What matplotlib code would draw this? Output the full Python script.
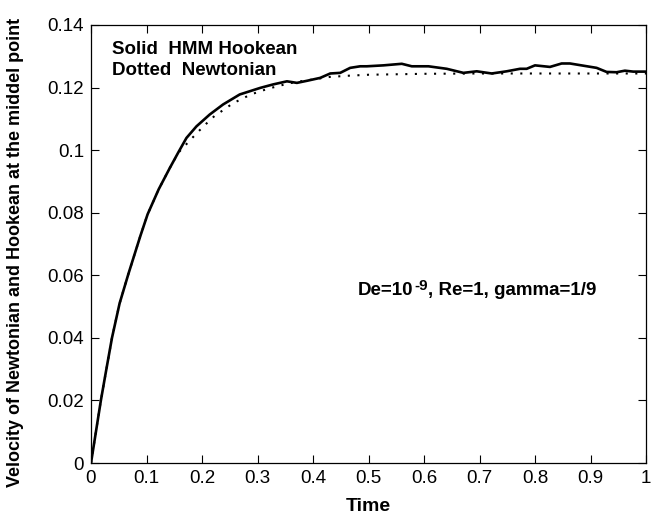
import matplotlib
matplotlib.use("Agg")
import matplotlib.pyplot as plt

# HMM Hookean (solid)
t_hook = [0, 0.0178, 0.0266, 0.0378, 0.0515, 0.0675, 0.0888, 0.102, 0.122, 0.142,
          0.158, 0.172, 0.19, 0.214, 0.238, 0.268, 0.305, 0.328, 0.353, 0.371,
          0.39, 0.413, 0.431, 0.449, 0.467, 0.485, 0.497, 0.527, 0.56, 0.578,
          0.608, 0.641, 0.671, 0.695, 0.722, 0.749, 0.773, 0.785, 0.80, 0.827,
          0.848, 0.863, 0.887, 0.911, 0.929, 0.947, 0.962, 0.977, 0.994, 1.0]
v_hook = [0, 0.02, 0.0289, 0.04, 0.051, 0.0605, 0.0725, 0.0795, 0.0875, 0.0943,
          0.0995, 0.1039, 0.1076, 0.1114, 0.1146, 0.1178, 0.1199, 0.121, 0.122, 0.1215,
          0.1222, 0.1231, 0.1245, 0.1247, 0.1263, 0.1268, 0.1268, 0.1271, 0.1276, 0.1268,
          0.1268, 0.126, 0.1247, 0.1252, 0.1245, 0.1252, 0.126, 0.126, 0.1271, 0.1266,
          0.1277, 0.1277, 0.127, 0.1263, 0.125, 0.1249, 0.1254, 0.1251, 0.1251, 0.1251]

# Newtonian (dotted)
t_newt = [0, 0.0178, 0.0378, 0.0515, 0.0675, 0.0888, 0.102, 0.122, 0.142, 0.158,
          0.175, 0.192, 0.208, 0.223, 0.24, 0.255, 0.272, 0.288, 0.305, 0.32,
          0.336, 0.353, 0.37, 0.40, 0.43, 0.465, 0.5, 0.6, 0.7, 0.8, 0.9, 1.0]
v_newt = [0, 0.02, 0.04, 0.051, 0.0605, 0.0725, 0.0795, 0.0875, 0.0943, 0.0993,
          0.1025, 0.1057, 0.1085, 0.111, 0.113, 0.1149, 0.1164, 0.1178, 0.1188, 0.1197,
          0.1204, 0.1212, 0.1218, 0.1226, 0.1234, 0.1238, 0.1241, 0.1244, 0.1245, 0.1245,
          0.1245, 0.1245]

x_ticks = [0, 0.1, 0.2, 0.3, 0.4, 0.5, 0.6, 0.7, 0.8, 0.9, 1]
x_labels = ["0", "0.1", "0.2", "0.3", "0.4", "0.5", "0.6", "0.7", "0.8", "0.9", "1"]
y_ticks = [0, 0.02, 0.04, 0.06, 0.08, 0.1, 0.12, 0.14]
y_labels = ["0", "0.02", "0.04", "0.06", "0.08", "0.1", "0.12", "0.14"]

plt.rcParams["font.family"] = ["Liberation Sans", "DejaVu Sans"]

fig = plt.figure(figsize=(6.62, 5.25), dpi=100)
ax = fig.add_axes([91 / 662, 1 - 463 / 525, 555 / 662, 438 / 525])

ax.plot(t_hook, v_hook, color="black", linewidth=1.9, solid_joinstyle="round")
ax.plot(t_newt, v_newt, color="black", linewidth=1.5,
        linestyle=(0, (1, 3.6)))

ax.set_xlim(0, 1)
ax.set_ylim(0, 0.14)
ax.set_xticks(x_ticks)
ax.set_xticklabels(x_labels)
ax.set_yticks(y_ticks)
ax.set_yticklabels(y_labels)
ax.tick_params(direction="in", top=True, right=True, length=6, width=0.8,
               labelsize=13.5, pad=5)
for s in ax.spines.values():
    s.set_linewidth(0.9)

ax.set_xlabel("Time", fontsize=14, fontweight="bold", labelpad=8)
ax.set_ylabel("Velocity of Newtonian and Hookean at the middel point",
              fontsize=13, fontweight="bold")
ax.yaxis.set_label_coords(-0.12, 0.48)

bold = dict(fontsize=13.5, fontweight="bold")
ax.text(0.037, 0.1306, "Solid  HMM Hookean", va="baseline", ha="left", **bold)
ax.text(0.037, 0.1241, "Dotted  Newtonian", va="baseline", ha="left", **bold)

# parameter note, with a hyphen in the exponent
t1 = ax.text(0.481, 0.0536, "De=10", va="baseline", ha="left", **bold)
t2 = ax.annotate("-9", xy=(1, 1), xycoords=t1, xytext=(0.5, 2.5),
                 textcoords="offset points", va="top", ha="left",
                 fontsize=11, fontweight="bold")
ax.annotate(", Re=1, gamma=1/9", xy=(1, 0), xycoords=(t2, t1),
            va="bottom", ha="left", **bold)

fig.savefig("out.png", dpi=100)
